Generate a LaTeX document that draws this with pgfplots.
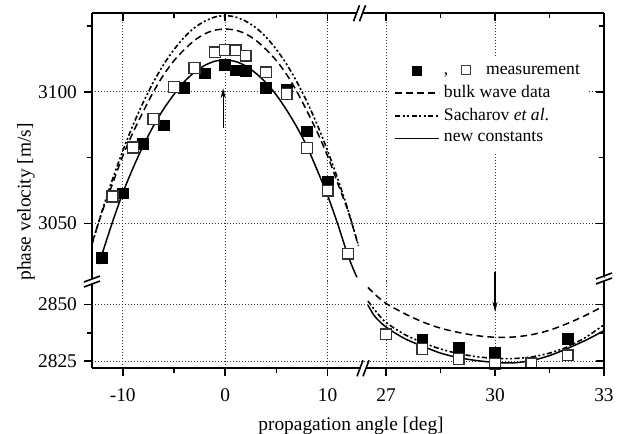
\documentclass[border=0pt]{standalone}
\usepackage{fontspec}
\setmainfont{Liberation Serif}
\usepackage{pgfplots}
\pgfplotsset{compat=1.18}
\usetikzlibrary{arrows.meta}

\newcommand\tickfont{\fontsize{9.7}{11}\selectfont}
\newcommand\legfont{\fontsize{8.8}{10.5}\selectfont}

\pgfplotsset{
  brk/.style={scale only axis, axis line style={draw=none},
    tick style={black, line width=0.8pt},
    major tick length=4pt, minor tick length=2.5pt,
    grid style={black!80, line width=0.45pt, dash pattern=on 0.45pt off 1.05pt},
    tick label style={font=\tickfont},
    xticklabel style={yshift=-2.5pt},
    /pgf/number format/assume math mode=true,
    /pgf/number format/1000 sep={}},
  % left and right part of the broken x axis, upper and lower part of the y axis
  xl/.style={xmin=-13, xmax=13.25, width=134.5pt},
  xr/.style={xmin=26.31, xmax=33, width=121.5pt},
  yu/.style={ymin=3028.1, ymax=3129.8, height=133.85pt},
  yl/.style={ymin=2821.8, ymax=2860.3, height=43.65pt},
  xlt/.style={xtick={-10,0,10}, minor xtick={-5,5}},
  xrt/.style={xtick={27,30,33}, minor xtick={28.5,31.5}},
  yut/.style={ytick={3050,3100}, minor ytick={3075,3125}},
  ylt/.style={ytick={2825,2850}, minor ytick={2837.5}},
  bulk/.style={black, line width=0.75pt, dash pattern=on 3.4pt off 2.1pt},
  sach/.style={black, line width=0.8pt, dash pattern=on 2.6pt off 1.2pt on 1pt off 1.2pt on 1pt off 1.2pt},
  newc/.style={black, line width=0.75pt},
  fullsq/.style={only marks, mark=square*, mark size=2.7pt, mark options={fill=black, draw=black, line width=0.4pt}},
  opensq/.style={only marks, mark=square*, mark size=2.7pt, mark options={fill=white, draw=black!80, line width=0.65pt}},
}

% measured points, upper part
\pgfplotstableread{
x   v
-12 3037.0
-10 3061.4
-8  3080.3
-6  3087.2
-4  3101.5
-2  3107.0
0   3110.3
1   3108.1
2   3108.0
4   3101.6
6   3100.7
8   3084.9
10  3065.6
}\fullup
\pgfplotstableread{
x   v
-11 3060.2
-9  3078.8
-7  3089.6
-5  3101.8
-3  3109.1
-1  3115.0
0   3115.9
1   3115.7
2   3113.7
4   3107.4
6   3099.2
8   3078.6
10  3062.4
12  3038.5
}\openup
% measured points, lower part
\pgfplotstableread{
x   v
28  2834.3
29  2831.0
30  2828.7
32  2834.6
}\fulllow
\pgfplotstableread{
x   v
27  2836.8
28  2830.3
29  2825.8
30  2823.7
31  2824.0
32  2827.5
}\openlow

\begin{document}
\begin{tikzpicture}
\useasboundingbox (0,0) rectangle (311pt,-217pt);

% upper left: y ticks + horizontal grid
\begin{axis}[brk, xl, yu, yut, at={(46pt,-140.5pt)}, xtick=\empty,
  ytick pos=left, tick align=outside, ymajorgrids]
\end{axis}

% lower left
\begin{axis}[brk, xl, yl, xlt, ylt, at={(46pt,-184.15pt)},
  xtick pos=left, ytick pos=left, tick align=outside, grid=major]
\end{axis}

% upper right + legend
\begin{axis}[brk, xr, yu, xrt, yut, at={(180.5pt,-140.5pt)},
  xtick pos=right, ytick pos=right, tick align=inside,
  xticklabels=\empty, yticklabels=\empty, grid=major,
  legend cell align=left,
  legend image code/.code={\draw[mark repeat=2,mark phase=2,#1] plot coordinates {(0pt,0pt) (11pt,0pt) (22pt,0pt)};},
  legend style={at={(0.1193,0.84)}, anchor=north west, draw=none, fill=white,
    inner sep=2pt, font=\legfont, row sep=0pt}]
\addlegendimage{legend image code/.code={\fill[black] (8.75pt,-2.25pt) rectangle (13.25pt,2.25pt);}}
\addlegendentry{,\hspace{6.5pt}\tikz[baseline=0pt]\draw[line width=0.55pt,black!75] (0,0) rectangle (4.3pt,4.3pt);\hspace{7.5pt}measurement}
\addlegendimage{bulk}
\addlegendentry{bulk wave data}
\addlegendimage{sach}
\addlegendentry{Sacharov \textit{et al}.}
\addlegendimage{newc}
\addlegendentry{new constants}
\end{axis}

% lower right: y ticks + horizontal grid
\begin{axis}[brk, xr, yl, ylt, at={(180.5pt,-184.15pt)}, xtick=\empty,
  ytick pos=right, tick align=inside, yticklabels=\empty, ymajorgrids]
\end{axis}

% upper left: data
\begin{axis}[brk, xl, yu, xlt, at={(46pt,-140.5pt)}, ytick=\empty,
  xtick pos=right, tick align=inside, xticklabels=\empty, xmajorgrids]
\addplot[sach, smooth] coordinates {(-13,3042) (-12,3054.9) (-11,3066.7) (-10,3077.5) (-9,3087.3) (-8,3096) (-7,3103.7) (-6,3110.4) (-5,3116) (-4,3120.7) (-3,3124.3) (-2,3126.8) (-1,3128.4) (0,3128.9) (1,3128.4) (2,3126.8) (3,3124.3) (4,3120.7) (5,3116) (6,3110.4) (7,3103.7) (8,3096) (9,3087.3) (10,3077.5) (11,3066.7) (12,3054.9) (13,3041.5)};
\addplot[bulk, smooth] coordinates {(-13,3042.5) (-12,3054.5) (-11,3065) (-10,3075.5) (-9,3084.5) (-8,3092.5) (-7,3100) (-6,3106.5) (-5,3111.8) (-4,3116) (-3,3119.5) (-2,3122) (-1,3123.4) (0,3123.8) (1,3123.4) (2,3122) (3,3119.5) (4,3116) (5,3111.8) (6,3106.5) (7,3100) (8,3092.5) (9,3084.5) (10,3075.5) (11,3065) (12,3054.5) (13,3041.5)};
\addplot[newc, smooth] coordinates {(-12.3,3034.5) (-12,3038.5) (-11,3050.5) (-10,3061.5) (-9,3071) (-8,3079.5) (-7,3087) (-6,3093.5) (-5,3099) (-4,3103.8) (-3,3107.4) (-2,3110) (-1,3111.6) (0,3112) (1,3111.5) (2,3109.8) (3,3107) (4,3103.3) (5,3098.7) (6,3093) (7,3086.5) (8,3079) (9,3070) (10,3060.5) (11,3049.5) (12,3037.5) (12.85,3029.5)};
\addplot[fullsq] table[x=x, y=v] {\fullup};
\addplot[opensq] table[x=x, y=v] {\openup};
\draw[black, line width=0.6pt, -{Stealth[length=5pt, width=2.6pt]}] (axis cs:-0.2,3086.1) -- (axis cs:-0.2,3101.3);
\end{axis}

% lower right: x ticks, vertical grid, data
\begin{axis}[brk, xr, yl, xrt, at={(180.5pt,-184.15pt)}, ytick=\empty,
  xtick pos=left, tick align=outside, xmajorgrids, clip=false]
\addplot[bulk, smooth] coordinates {(26.5,2857.5) (26.75,2853.6) (27,2850.4) (27.5,2846) (28,2842.3) (28.5,2839.5) (29,2837.6) (29.5,2836.2) (30,2835.5) (30.5,2835.6) (31,2836.6) (31.5,2838.6) (32,2841.6) (32.5,2845.2) (33,2849.3)};
\addplot[sach, smooth] coordinates {(26.5,2851.5) (26.75,2846.3) (27,2842) (27.5,2836.8) (28,2833.2) (28.5,2830.3) (29,2828.3) (29.5,2826.9) (30,2826.2) (30.5,2826.1) (31,2826.8) (31.5,2828.5) (32,2831.3) (32.5,2835.5) (33,2841)};
\addplot[newc, smooth] coordinates {(26.5,2849.7) (26.7,2844.5) (27,2840) (27.5,2835) (28,2831.6) (28.5,2828.5) (29,2826.5) (29.5,2825.2) (30,2824.4) (30.5,2824.2) (31,2825.2) (31.5,2827.4) (32,2830.6) (32.5,2834.2) (33,2838.4)};
\addplot[fullsq] table[x=x, y=v] {\fulllow};
\addplot[opensq] table[x=x, y=v] {\openlow};
\draw[black, line width=0.6pt, -{Stealth[length=5pt, width=2.6pt]}] (axis cs:30,2864.2) -- (axis cs:30,2846.7);
\end{axis}

% frame with break marks and axis titles, in pixel units of the reference
\begin{scope}[x=0.5pt, y=-0.5pt]
\begin{scope}[line width=1pt, black]
\draw (92,13.3) -- (92,279) (92,284) -- (92,368.3);
\draw (604,13.3) -- (604,276) (604,281) -- (604,368.3);
\draw (92,13.3) -- (356.5,13.3) (362.5,13.3) -- (604,13.3);
\draw (92,368.3) -- (360,368.3) (366,368.3) -- (604,368.3);
\end{scope}
\begin{scope}[line width=0.8pt, black]
\draw (84,282) -- (100,276) (84,287) -- (100,281);
\draw (596,279) -- (612,273) (596,284) -- (612,278);
\draw (353.5,21.3) -- (359.5,5.3) (359.5,21.3) -- (365.5,5.3);
\draw (357,376.3) -- (363,360.3) (363,376.3) -- (369,360.3);
\end{scope}
\node[rotate=90, font=\tickfont] at (26,202) {phase velocity [m/s]};
\node[font=\tickfont, anchor=base] at (351,430) {propagation angle [deg]};
\end{scope}
\end{tikzpicture}
\end{document}
